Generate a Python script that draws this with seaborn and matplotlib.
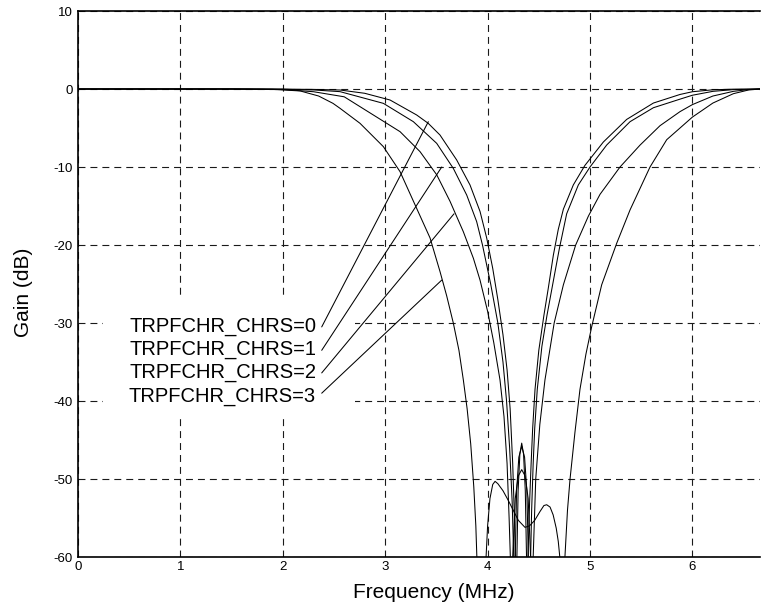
import matplotlib
matplotlib.use("Agg")
import matplotlib.pyplot as plt
from matplotlib.patches import Rectangle
import seaborn as sns
import pandas as pd

# ---------------- data ----------------
labels = ["TRPFCHR_CHRS=0", "TRPFCHR_CHRS=1", "TRPFCHR_CHRS=2", "TRPFCHR_CHRS=3"]

# (frequency MHz, gain dB); values below -60 mark the notch zeros (off-axis)
chrs0 = [(0, 0), (1.5, 0), (2.0, -0.02), (2.3, -0.05), (2.559, -0.13), (2.8, -0.55),
         (3.047, -1.41), (3.307, -3.33), (3.42, -4.4), (3.535, -5.9), (3.698, -9.1),
         (3.828, -12.3), (3.926, -15.7), (3.991, -19.1), (4.05, -23.0), (4.10, -27.0),
         (4.15, -31.5), (4.19, -36.0), (4.22, -41.0), (4.245, -48.0), (4.262, -55.0),
         (4.27, -60), (4.278, -85), (4.286, -60), (4.298, -51.5), (4.315, -46.8),
         (4.333, -45.4), (4.351, -46.8), (4.368, -51.5), (4.38, -60), (4.388, -85),
         (4.394, -60), (4.41, -53), (4.425, -48), (4.44, -43.5), (4.463, -38.5),
         (4.50, -33.5), (4.55, -29.0), (4.593, -25.5), (4.642, -21.3), (4.69, -18.0),
         (4.74, -15.4), (4.837, -12.3), (4.95, -9.8), (5.13, -6.8), (5.358, -3.9),
         (5.619, -1.8), (5.879, -0.7), (6.0, -0.35), (6.2, -0.1), (6.4, -0.02), (6.66, 0)]

chrs1 = [(0, 0), (1.5, 0), (2.0, -0.03), (2.3, -0.12), (2.559, -0.34), (2.982, -1.84),
         (3.275, -4.19), (3.503, -6.97), (3.666, -10.2), (3.796, -13.6), (3.893, -17.0),
         (3.95, -20.0), (4.03, -25.0), (4.10, -30.0), (4.15, -35.0), (4.185, -40.0),
         (4.215, -46.0), (4.24, -53.0), (4.255, -60), (4.262, -85), (4.27, -60),
         (4.283, -51.5), (4.305, -47.2), (4.333, -45.8), (4.361, -47.2), (4.383, -51.5),
         (4.398, -60), (4.41, -85), (4.42, -60), (4.43, -54), (4.445, -48), (4.46, -43.5),
         (4.485, -38.5), (4.53, -33.0), (4.58, -29.0), (4.642, -24.6), (4.70, -20.5),
         (4.772, -16.0), (4.886, -12.3), (5.0, -10.0), (5.163, -7.18), (5.391, -4.19),
         (5.619, -2.4), (5.879, -1.3), (6.0, -0.8), (6.2, -0.3), (6.4, -0.08), (6.66, 0)]

chrs2 = [(0, 0), (1.5, 0), (2.0, -0.05), (2.3, -0.35), (2.6, -1.0), (2.884, -3.33),
         (3.145, -5.47), (3.34, -8.03), (3.503, -11.0), (3.633, -14.4), (3.763, -18.3),
         (3.861, -21.7), (3.926, -24.5), (4.00, -28.5), (4.06, -32.5), (4.121, -37.3),
         (4.16, -42.0), (4.19, -48.0), (4.21, -55.0), (4.222, -60), (4.232, -85),
         (4.245, -60), (4.27, -52.5), (4.30, -49.6), (4.333, -48.8), (4.366, -49.6),
         (4.396, -52.5), (4.42, -60), (4.432, -85), (4.445, -60), (4.47, -50), (4.51, -43),
         (4.56, -37.3), (4.65, -30.0), (4.74, -25.1), (4.86, -20.0), (4.984, -16.3),
         (5.098, -13.5), (5.293, -10.0), (5.488, -7.2), (5.684, -4.7), (5.879, -2.9),
         (6.0, -2.0), (6.2, -0.9), (6.4, -0.3), (6.55, -0.07), (6.66, 0)]

chrs3 = [(0, 0), (1.5, 0), (1.9, -0.05), (2.17, -0.25), (2.35, -0.9), (2.49, -1.84),
         (2.559, -2.48), (2.754, -4.4), (2.982, -7.39), (3.145, -10.6), (3.307, -15.3),
         (3.438, -19.1), (3.535, -23.4), (3.60, -26.5), (3.665, -30.0), (3.72, -33.5),
         (3.763, -37.3), (3.80, -41.0), (3.835, -45.5), (3.865, -51.0), (3.885, -56.0),
         (3.895, -60), (3.94, -85), (3.985, -60), (4.0, -56), (4.023, -52.5), (4.05, -50.7),
         (4.073, -50.3), (4.10, -50.6), (4.15, -51.5), (4.20, -52.7), (4.25, -54.0),
         (4.30, -55.3), (4.365, -56.2), (4.41, -56.0), (4.46, -55.3), (4.51, -54.2),
         (4.55, -53.4), (4.577, -53.3), (4.61, -53.6), (4.64, -54.6), (4.67, -56.3),
         (4.69, -58.0), (4.705, -60), (4.73, -85), (4.755, -60), (4.78, -54), (4.805, -50),
         (4.853, -44), (4.902, -38.5), (4.96, -34.0), (5.016, -30.5), (5.114, -25.1),
         (5.26, -19.8), (5.391, -15.5), (5.586, -10.0), (5.749, -6.5), (5.879, -5.0),
         (6.0, -3.6), (6.2, -1.8), (6.4, -0.6), (6.55, -0.12), (6.66, 0)]

x_ticks = [0, 1, 2, 3, 4, 5, 6]
y_ticks = [-60, -50, -40, -30, -20, -10, 0, 10]

# label / leader-line anchors (annotation positions, data coords)
label_x = 2.325
label_y = [-30.4, -33.4, -36.4, -39.4]
leader_start_x = 2.38
leader_start_y = [-30.5, -33.5, -36.4, -39.0]
leader_end = [(3.421, -4.19), (3.552, -10.0), (3.672, -16.0), (3.552, -24.5)]
label_box = (0.244, -42.2, 2.46, 15.5)   # x0, y0, width, height (white backing)

# ---------------- build table ----------------
frames = []
for lab, pts in zip(labels, [chrs0, chrs1, chrs2, chrs3]):
    d = pd.DataFrame(pts, columns=["freq", "gain"])
    d["setting"] = lab
    frames.append(d)
df = pd.concat(frames, ignore_index=True)

# ---------------- plot ----------------
sns.set_theme(style="white")
plt.rcParams["font.family"] = ["Liberation Sans", "DejaVu Sans"]
plt.rcParams["lines.scale_dashes"] = False
plt.rcParams["axes.unicode_minus"] = False

fig = plt.figure(figsize=(7.61, 6.11), dpi=100)
ax = fig.add_axes([78 / 761, 54 / 611, 682 / 761, 546 / 611])

sns.lineplot(data=df, x="freq", y="gain", hue="setting", units="setting",
             estimator=None, sort=False, palette=["black"] * 4, legend=False,
             linewidth=0.75, ax=ax, zorder=3)

ax.set_xlim(0, 6.66)
ax.set_ylim(-60, 10)
ax.set_xticks(x_ticks)
ax.set_yticks(y_ticks)
ax.tick_params(axis="both", direction="in", length=4, width=0.8, color="black",
               labelsize=9.5, labelcolor="black", pad=4)
ax.tick_params(axis="x", pad=3)

ax.grid(True, linestyle=(0, (5, 3.6)), color="0.1", linewidth=0.8)
ax.set_axisbelow(True)

for side in ["left", "bottom", "top"]:
    ax.spines[side].set_visible(True)
    ax.spines[side].set_color("black")
    ax.spines[side].set_linewidth(1.2)
ax.spines["right"].set_visible(False)

ax.set_xlabel("Frequency (MHz)", fontsize=15, color="black")
ax.xaxis.set_label_coords(0.522, -0.047)
ax.set_ylabel("Gain (dB)", fontsize=15, color="black")
ax.yaxis.set_label_coords(-0.066, 0.485)

ax.add_patch(Rectangle((label_box[0], label_box[1]), label_box[2], label_box[3],
                       facecolor="white", edgecolor="none", zorder=2))
for lab, ly, sy, (ex, ey) in zip(labels, label_y, leader_start_y, leader_end):
    ax.text(label_x, ly, lab, ha="right", va="center", fontsize=14.5, color="black", zorder=4)
    ax.plot([leader_start_x, ex], [sy, ey], color="black", linewidth=0.75, zorder=4)

fig.savefig("out.png", dpi=100)
